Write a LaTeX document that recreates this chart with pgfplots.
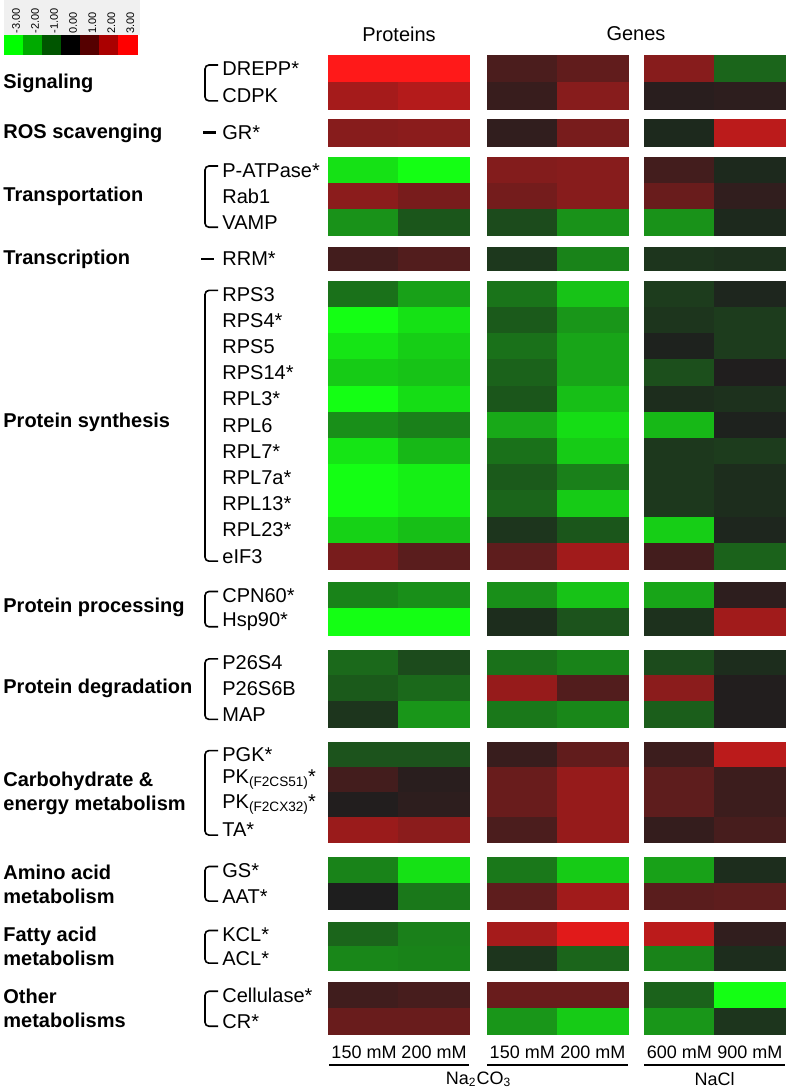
\documentclass[border=0pt]{standalone}
\usepackage{fontspec}
\setmainfont{Liberation Sans}
\usepackage{pgfplots}
\usepackage{pgfplotstable}
\pgfplotsset{compat=1.18}

% heat values (log2 ratio), one row per protein, y = row centre, h = row height
\pgfplotstableread{
y h P150 P200 G150 G200 N600 N900
69.1 26.8 3.0 3.0 0.6 0.9 1.4 -0.95
95.9 26.8 1.8 2.0 0.35 1.4 0.15 0.2
132.65 26.7 1.4 1.45 0.25 1.2 -0.15 2.1
170.3 26 -2.6 -3 1.35 1.4 0.5 -0.15
196.3 26 1.45 1.2 1.15 1.4 1.0 0.25
222.3 26 -1.55 -0.75 -0.6 -1.55 -1.55 -0.15
258.85 22.3 0.5 0.7 -0.35 -1.35 -0.3 -0.25
294.4 26.2 -1.1 -1.75 -1.15 -2.2 -0.4 -0.1
320.6 26.2 -3 -2.6 -0.8 -1.6 -0.3 -0.4
346.7 26.2 -2.65 -2.35 -1.1 -1.8 -0.05 -0.4
372.9 26.2 -2.3 -2.2 -0.9 -1.8 -0.65 0.03
399.1 26.2 -3 -2.55 -0.75 -2.15 -0.2 -0.25
425.3 26.2 -1.5 -1.3 -1.85 -2.55 -2.05 -0.05
451.5 26.2 -2.65 -2.05 -1.1 -2.3 -0.35 -0.4
477.7 26.2 -3 -2.8 -0.8 -1.3 -0.35 -0.2
503.9 26.2 -3 -2.8 -0.95 -2.3 -0.35 -0.2
530.1 26.2 -2.4 -2.15 -0.3 -0.75 -2.35 -0.1
556.2 26.2 1.2 0.8 0.85 1.75 0.5 -0.9
595.5 26.4 -1.35 -1.5 -1.5 -2.2 -1.8 0.2
621.8 26.4 -3 -3 -0.2 -0.7 -0.25 1.75
662.9 25.8 -1.0 -0.6 -1.1 -1.35 -0.6 -0.2
688.6 25.8 -0.8 -1.0 1.6 0.7 1.45 0.05
714.4 25.8 -0.3 -1.6 -1.2 -1.4 -0.85 0.05
754.6 25.2 -0.7 -0.7 0.35 0.9 0.4 2.1
779.8 25.2 0.5 0.15 1.0 1.6 0.85 0.4
804.9 25.2 0.05 0.2 1.0 1.6 0.85 0.4
830.1 25.2 1.65 1.45 0.6 1.6 0.3 0.55
870.5 25.7 -1.35 -2.6 -1.2 -2.3 -1.75 -0.2
896.2 25.7 0 -1.2 0.85 1.75 0.8 0.85
934.5 23.7 -0.95 -1.3 1.8 2.6 2.1 0.25
958.2 23.7 -1.4 -1.35 -0.3 -0.95 -1.35 -0.2
995.3 26 0.45 0.55 1.0 1.0 -0.9 -3
1021.3 26 1.0 1.0 -1.6 -2.3 -1.6 -0.3
}\heat

\pgfplotsset{
  cell/.style={scatter, only marks, mark=square*, mark size=17.625pt,
    point meta=explicit,
    scatter/use mapped color={draw=mapped color, fill=mapped color},
    visualization depends on={\thisrow{h} \as \rowh},
    scatter/@pre marker code/.append style={/tikz/yscale=\rowh/70.5}},
}

\begin{document}
\begin{tikzpicture}
\begin{axis}[name=ax, hide axis, scale only axis,
    width=393.5pt, height=545pt,
    xmin=0, xmax=787, ymin=0, ymax=1090, y dir=reverse,
    enlargelimits=false, clip=false,
    colormap={hm}{rgb255=(20,255,20) rgb255=(30,30,30) rgb255=(255,25,25)},
    point meta min=-3, point meta max=3]

% colour key
\addplot[scatter, only marks, mark=square*, mark size=4.77pt, point meta=explicit,
    colormap={pure}{rgb255=(0,255,0) rgb255=(0,0,0) rgb255=(255,0,0)},
    scatter/use mapped color={draw=mapped color, fill=mapped color},
    every mark/.append style={yscale=0.97}]
  table[meta=c]{
x y c
13.8 45 -3
32.9 45 -2
51.9 45 -1
71 45 0
90.1 45 1
109.1 45 2
128.2 45 3
};

% heat map
\addplot[cell] table[x expr=364, y=y, meta=P150]{\heat};
\addplot[cell] table[x expr=434, y=y, meta=P200]{\heat};
\addplot[cell] table[x expr=522.25, y=y, meta=G150]{\heat};
\addplot[cell] table[x expr=592.75, y=y, meta=G200]{\heat};
\addplot[cell] table[x expr=679.25, y=y, meta=N600]{\heat};
\addplot[cell] table[x expr=749.75, y=y, meta=N900]{\heat};
\end{axis}

% annotations in the same pixel units as the axis
\begin{scope}[shift={(ax.north west)}, x=0.5pt, y=-0.5pt]
\fill[black!6] (4,0) rectangle (140,35);
\foreach \v [count=\i from 0] in {-3.00,-2.00,-1.00,0.00,1.00,2.00,3.00}
  \node[rotate=90, anchor=west, font=\fontsize{5.5}{6}\selectfont, inner sep=0pt]
    at ({16+19.06*\i},34) {\v};

\node[font=\fontsize{10}{12}\selectfont] at (399,34) {Proteins};
\node[font=\fontsize{10}{12}\selectfont] at (636,34) {Genes};

\foreach \xx/\t in {364/150 mM,434/200 mM,522.25/150 mM,592.75/200 mM,679.25/600 mM,749.75/900 mM}
  \node[font=\fontsize{9}{10}\selectfont] at (\xx,1052) {\t};
\draw[line width=1pt] (329,1065) -- (469,1065);
\draw[line width=1pt] (487,1065) -- (628,1065);
\draw[line width=1pt] (644,1065) -- (785,1065);
\node[font=\fontsize{9}{10}\selectfont] at (478.5,1079) {Na\textsubscript{2}CO\textsubscript{3}};
\node[font=\fontsize{9}{10}\selectfont] at (714.5,1079) {NaCl};

\foreach \yy/\t in {69.1/DREPP*,95.9/CDPK,132.65/GR*,170.3/P-ATPase*,196.3/Rab1,222.3/VAMP,
  258.85/RRM*,294.4/RPS3,320.6/RPS4*,346.7/RPS5,372.9/RPS14*,399.1/RPL3*,425.3/RPL6,
  451.5/RPL7*,477.7/RPL7a*,503.9/RPL13*,530.1/RPL23*,556.2/eIF3,595.5/CPN60*,621.8/Hsp90*,
  662.9/P26S4,688.6/P26S6B,714.4/MAP,754.6/PGK*,830.1/TA*,870.5/GS*,896.2/AAT*,
  934.5/KCL*,958.2/ACL*,995.3/Cellulase*,1021.3/CR*}
  \node[anchor=west, font=\fontsize{10}{12}\selectfont, inner sep=0pt] at (222,\yy) {\t};
\node[anchor=west, font=\fontsize{10}{12}\selectfont, inner sep=0pt] at (222,779.8)
  {PK{\fontsize{6.8}{7}\selectfont\raisebox{-1.5pt}{(F2CS51)}}*};
\node[anchor=west, font=\fontsize{10}{12}\selectfont, inner sep=0pt] at (222,804.9)
  {PK{\fontsize{6.8}{7}\selectfont\raisebox{-1.5pt}{(F2CX32)}}*};

\foreach \a/\b in {65/100.9,166/227.3,290.4/561.2,591.5/626.8,658.9/719.4,750.6/835.1,
  866.5/901.2,930.5/963.2,991.3/1026.3}
  \draw[line width=0.8pt, rounded corners=2pt] (218,\a) -- (205,\a) -- (205,\b) -- (218,\b);
\draw[line width=1.2pt] (203,132.65) -- (216,132.65);
\draw[line width=0.8pt] (201,258.85) -- (214,258.85);

\tikzset{cat/.style={anchor=west, align=left, inner sep=0pt,
  font=\fontsize{10}{12}\selectfont\bfseries}}
\node[cat] at (3,83) {Signaling};
\node[cat] at (3,133) {ROS scavenging};
\node[cat] at (3,196) {Transportation};
\node[cat] at (3,259) {Transcription};
\node[cat] at (3,422) {Protein synthesis};
\node[cat] at (3,607) {Protein processing};
\node[cat] at (3,688) {Protein degradation};
\node[cat] at (3,793) {Carbohydrate \&\\energy metabolism};
\node[cat] at (3,884) {Amino acid\\metabolism};
\node[cat] at (3,946) {Fatty acid\\metabolism};
\node[cat] at (3,1008) {Other\\metabolisms};
\end{scope}
\pgfresetboundingbox
\path (ax.south west) rectangle (ax.north east);
\end{tikzpicture}
\end{document}
